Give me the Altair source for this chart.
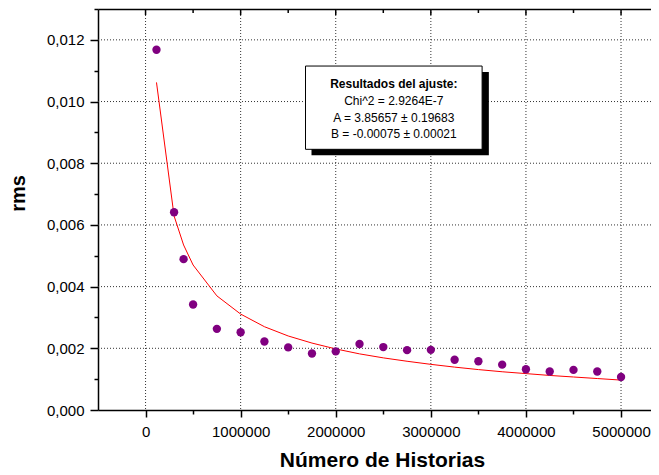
import altair as alt
import pandas as pd

# ---- data ----
historias = [115000, 300000, 400000, 500000, 750000, 1000000, 1250000, 1500000,
             1750000, 2000000, 2250000, 2500000, 2750000, 3000000, 3250000,
             3500000, 3750000, 4000000, 4250000, 4500000, 4750000, 5000000]
rms = [0.01168, 0.00641, 0.00489, 0.00342, 0.00263, 0.00252, 0.00222, 0.00203,
       0.00183, 0.00190, 0.00214, 0.00204, 0.00194, 0.00195, 0.00163,
       0.00158, 0.00147, 0.00132, 0.00125, 0.00130, 0.00125, 0.00107]
ajuste = [0.01062, 0.00629, 0.00535, 0.00470, 0.00370, 0.00311, 0.00270, 0.00240,
          0.00217, 0.00198, 0.00182, 0.00169, 0.00158, 0.00148, 0.00139,
          0.00131, 0.00124, 0.00118, 0.00112, 0.00107, 0.00102, 0.00097]

x_major = [0, 1000000, 2000000, 3000000, 4000000, 5000000]
x_minor = [500000, 1500000, 2500000, 3500000, 4500000]
y_major = [0.0, 0.002, 0.004, 0.006, 0.008, 0.010, 0.012]
y_minor = [0.001, 0.003, 0.005, 0.007, 0.009, 0.011, 0.013]

box_title = "Resultados del ajuste:"
box_lines = ["Chi^2 = 2.9264E-7", "A = 3.85657 ± 0.19683", "B = -0.00075 ± 0.00021"]

FONT = "Liberation Sans"

df = pd.DataFrame({"historias": historias, "rms": rms, "ajuste": ajuste})
one = pd.DataFrame({"k": [0]})

x_scale = alt.Scale(domain=[-500000, 5315000], nice=False, zero=False)
y_scale = alt.Scale(domain=[0, 0.013], nice=False, zero=False)

grid_style = dict(color="#333333", strokeDash=[1, 2], strokeWidth=1)

grid_x = alt.Chart(pd.DataFrame({"v": x_major})).mark_rule(**grid_style).encode(
    x=alt.X("v:Q", scale=x_scale, axis=None)
)
grid_y = alt.Chart(pd.DataFrame({"v": y_major[1:]})).mark_rule(**grid_style).encode(
    y=alt.Y("v:Q", scale=y_scale, axis=None)
)

line = alt.Chart(df).mark_line(color="#ff0000", strokeWidth=1).encode(
    x=alt.X("historias:Q", scale=x_scale,
            axis=alt.Axis(orient="bottom", values=x_minor, labels=False, domain=False,
                          grid=False, title=None, tickSize=4, tickWidth=1.5,
                          tickColor="black")),
    y=alt.Y("ajuste:Q", scale=y_scale,
            axis=alt.Axis(orient="left", values=y_minor, labels=False, domain=False,
                          grid=False, title=None, tickSize=4, tickWidth=1.5,
                          tickColor="black")),
)

points = alt.Chart(df).mark_circle(color="#800080", opacity=1, size=70).encode(
    x=alt.X("historias:Q", scale=x_scale,
            axis=alt.Axis(orient="bottom", values=x_major, format="d", grid=False,
                          title="Número de Historias", tickSize=7, tickWidth=1.5,
                          tickColor="black", domainColor="black", domainWidth=1.5,
                          labelFont=FONT, labelFontSize=15, labelColor="black",
                          labelPadding=7, labelFlush=False, labelOverlap=False,
                          titleFont=FONT, titleFontSize=21, titleFontWeight="bold",
                          titleColor="black", titleX=284, titleY=56,
                          titleAlign="center", titleBaseline="alphabetic")),
    y=alt.Y("rms:Q", scale=y_scale,
            axis=alt.Axis(orient="left", values=y_major, grid=False,
                          labelExpr="replace(format(datum.value, '.3f'), '.', ',')",
                          title="rms", tickSize=8, tickWidth=1.5, tickColor="black",
                          domainColor="black", domainWidth=1.5,
                          labelFont=FONT, labelFontSize=15, labelColor="black",
                          labelPadding=6, labelFlush=False, labelOverlap=False,
                          titleFont=FONT, titleFontSize=20, titleFontWeight="bold",
                          titleColor="black", titleX=-74, titleY=184, titleAngle=270,
                          titleAlign="center", titleBaseline="alphabetic")),
)

top_major = alt.Chart(pd.DataFrame({"v": x_major})).mark_rule(
    color="black", strokeWidth=1.5).encode(
    x=alt.X("v:Q", scale=x_scale,
            axis=alt.Axis(orient="top", labels=False, ticks=False, grid=False,
                          title=None, domain=True, domainColor="black",
                          domainWidth=1.5)),
    y=alt.value(0), y2=alt.value(6),
)
top_minor = alt.Chart(pd.DataFrame({"v": x_minor})).mark_rule(
    color="black", strokeWidth=1.5).encode(
    x=alt.X("v:Q", scale=x_scale, axis=None),
    y=alt.value(0), y2=alt.value(4),
)

shadow = alt.Chart(one).mark_rect(color="black").encode(
    x=alt.XDatum(1745000, axis=None), x2=alt.X2Datum(3610000),
    y=alt.YDatum(0.008256, axis=None), y2=alt.Y2Datum(0.010957),
)
box = alt.Chart(one).mark_rect(fill="white", stroke="black", strokeWidth=1).encode(
    x=alt.XDatum(1682000, axis=None), x2=alt.X2Datum(3539000),
    y=alt.YDatum(0.008451, axis=None), y2=alt.Y2Datum(0.011151),
)
title_txt = alt.Chart(one).mark_text(
    text=box_title, font=FONT, fontSize=12, fontWeight="bold", color="black",
    align="center", baseline="alphabetic").encode(
    x=alt.XDatum(2611000, axis=None), y=alt.YDatum(0.01044, axis=None),
)
body_txt = alt.Chart(one).mark_text(
    text=box_lines, font=FONT, fontSize=12, color="black", lineHeight=16.5,
    align="center", baseline="alphabetic").encode(
    x=alt.XDatum(2611000, axis=None), y=alt.YDatum(0.009877, axis=None),
)

chart = alt.layer(
    grid_x, grid_y, line, points, top_major, top_minor,
    shadow, box, title_txt, body_txt
).resolve_axis(x="independent", y="independent").properties(
    width=553, height=401,
    autosize=alt.AutoSizeParams(type="none"),
    padding={"left": 90, "top": 1, "right": 0, "bottom": 63},
    background="white",
).configure_view(stroke=None)

chart.save("out.html", embed_options={"renderer": "svg", "actions": False})
